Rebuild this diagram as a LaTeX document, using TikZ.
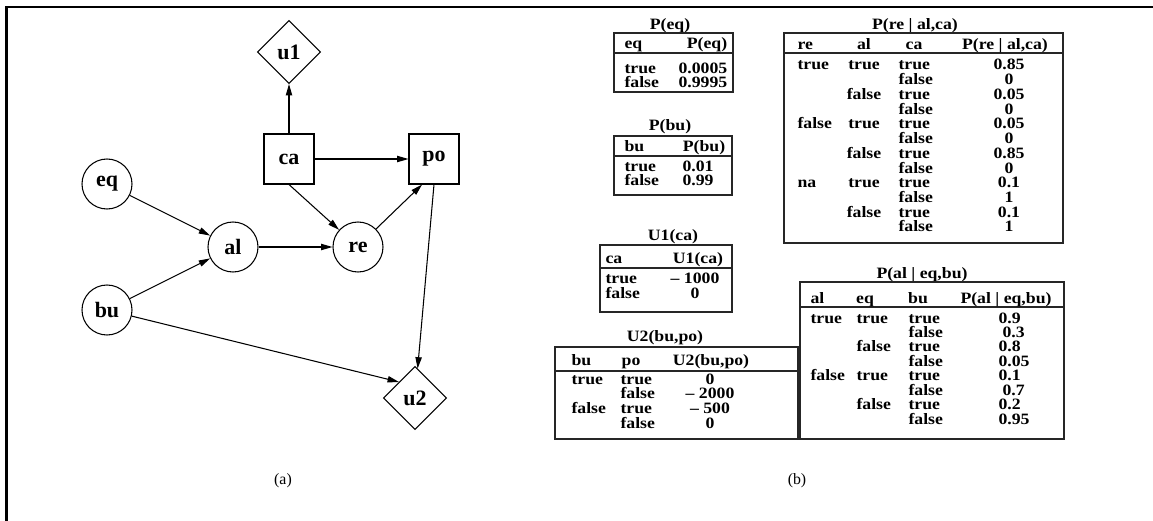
\documentclass[tikz,border=0pt]{standalone}
\usepackage{fontspec}
\setmainfont{Liberation Serif}
\newfontfamily\tabfont[FakeStretch=1.12]{Liberation Serif Bold}
\usetikzlibrary{arrows.meta,shapes.geometric}

\begin{document}
\begin{tikzpicture}[
  >={Triangle[length=6.5pt,width=3.6pt]}, line width=0.6pt,
  varnode/.style={draw, inner sep=0pt, font=\bfseries\fontsize{12.5}{14}\selectfont},
  chance/.style={varnode, circle, minimum size=1cm},
  decision/.style={varnode, rectangle, minimum size=1cm},
  utility/.style={varnode, diamond, minimum size=1.26cm},
  tabtxt/.style={inner sep=0pt, font=\tabfont\fontsize{9}{9}\selectfont},
  lcell/.style={tabtxt, anchor=base west},
  ccell/.style={tabtxt, anchor=base},
  tabbox/.style={draw=black!85, line width=0.7pt},
]
  \useasboundingbox (0,0) rectangle (23.06,-10.42);
  \draw[line width=1.5pt] (0.13,-10.42) -- (0.13,-0.14) -- (23.06,-0.14);

  % (a) influence diagram
  \node[utility]  (u1) at (5.78,-1.04) {u1};
  \node[decision] (ca) at (5.78,-3.18) {ca};
  \node[decision] (po) at (8.68,-3.18) {po};
  \node[chance]   (eq) at (2.14,-3.68) {eq};
  \node[chance]   (al) at (4.66,-4.94) {al};
  \node[chance]   (re) at (7.16,-4.94) {re};
  \node[chance]   (bu) at (2.14,-6.20) {bu};
  \node[utility]  (u2) at (8.30,-7.96) {u2};

  \draw[->] (eq) -- (al);
  \draw[->] (bu) -- (al);
  \draw[->] (al) -- (re);
  \draw[->] (ca) -- (u1);
  \draw[->] (ca) -- (po);
  \draw[->] (ca.south) -- (re);
  \draw[->] (re.north east) -- (po.245);
  \draw[->] (po.south) -- (u2);
  \draw[->] (bu) -- (u2.north west);

  \node[font=\fontsize{9}{10}\selectfont] (lbla) at (5.66,-9.62) {(a)};

  % (b) tables
  % P(eq)
  \node[ccell] (teq) at (13.40,-0.58) {P(eq)};
  \draw[tabbox] (12.28,-0.66) rectangle (14.66,-1.84);
  \draw[tabbox, line width=1.2pt] (12.28,-1.06) -- (14.66,-1.06);
  \node[lcell] (heq-1) at (12.48,-0.96) {eq};
  \node[ccell] (heq-2) at (14.14,-0.96) {P(eq)};
  \node[lcell] (peq-t) at (12.48,-1.46) {true};
  \node[lcell] (peq-f) at (12.48,-1.74) {false};
  \node[lcell] (peq-1) at (13.56,-1.46) {0.0005};
  \node[lcell] (peq-2) at (13.56,-1.74) {0.9995};

  % P(bu)
  \node[ccell] (tbu) at (13.40,-2.60) {P(bu)};
  \draw[tabbox] (12.28,-2.72) rectangle (14.64,-3.90);
  \draw[tabbox, line width=1.2pt] (12.28,-3.12) -- (14.64,-3.12);
  \node[lcell] (hbu-1) at (12.48,-3.02) {bu};
  \node[ccell] (hbu-2) at (14.08,-3.02) {P(bu)};
  \node[lcell] (pbu-t) at (12.48,-3.42) {true};
  \node[lcell] (pbu-f) at (12.48,-3.71) {false};
  \node[lcell] (pbu-1) at (13.64,-3.42) {0.01};
  \node[lcell] (pbu-2) at (13.64,-3.71) {0.99};

  % U1(ca)
  \node[ccell] (tu1) at (13.46,-4.80) {U1(ca)};
  \draw[tabbox] (12.00,-4.90) rectangle (14.64,-6.24);
  \draw[tabbox] (12.00,-5.36) -- (14.64,-5.36);
  \node[lcell] (hu1-1) at (12.10,-5.26) {ca};
  \node[ccell] (hu1-2) at (13.96,-5.26) {U1(ca)};
  \node[lcell] (pu1-t) at (12.10,-5.66) {true};
  \node[lcell] (pu1-f) at (12.10,-5.96) {false};
  \node[ccell] (pu1-1) at (13.90,-5.66) {\textendash~1000};
  \node[ccell] (pu1-2) at (13.90,-5.96) {0};

  % U2(bu,po)
  \node[ccell] (tu2) at (13.30,-6.82) {U2(bu,po)};
  \draw[tabbox] (11.10,-6.94) rectangle (15.96,-8.78);
  \draw[tabbox] (11.10,-7.42) -- (15.96,-7.42);
  \node[lcell] (hu2-1) at (11.42,-7.30) {bu};
  \node[ccell] (hu2-2) at (12.62,-7.30) {po};
  \node[ccell] (hu2-3) at (14.22,-7.30) {U2(bu,po)};
  \node[lcell] (pu2-bt) at (11.42,-7.68) {true};
  \node[lcell] (pu2-bf) at (11.42,-8.27) {false};
  \foreach \p/\v [count=\i] in {true/0, false/\textendash~2000, true/\textendash~500, false/0} {
    \node[lcell] (pu2-p\i) at (12.40,{-7.68-0.294*(\i-1)}) {\p};
    \node[ccell] (pu2-v\i) at (14.20,{-7.68-0.294*(\i-1)}) {\v};
  }

  % P(re | al,ca)
  \node[ccell] (tre) at (18.30,-0.58) {P(re | al,ca)};
  \draw[tabbox] (15.68,-0.66) rectangle (21.26,-4.86);
  \draw[tabbox] (15.68,-1.06) -- (21.26,-1.06);
  \node[lcell] (hre-1) at (15.94,-0.98) {re};
  \node[ccell] (hre-2) at (17.28,-0.98) {al};
  \node[ccell] (hre-3) at (18.28,-0.98) {ca};
  \node[ccell] (hre-4) at (20.10,-0.98) {P(re | al,ca)};
  \foreach \i/\r in {1/true, 5/false, 9/na}
    \node[lcell] (pre-r\i) at (15.94,{-1.40-0.2945*(\i-1)}) {\r};
  \foreach \i/\a in {1/true, 3/false, 5/true, 7/false, 9/true, 11/false}
    \node[ccell] (pre-a\i) at (17.28,{-1.40-0.2945*(\i-1)}) {\a};
  \foreach \i in {1,3,...,11} {
    \node[lcell] (pre-ct\i) at (17.96,{-1.40-0.2945*(\i-1)}) {true};
    \node[lcell] (pre-cf\i) at (17.96,{-1.40-0.2945*\i}) {false};
  }
  \foreach \v [count=\i] in {0.85,0,0.05,0,0.05,0,0.85,0,0.1,1,0.1,1}
    \node[ccell] (pre-v\i) at (20.18,{-1.40-0.2945*(\i-1)}) {\v};

  % P(al | eq,bu)
  \node[ccell] (tal) at (18.44,-5.56) {P(al | eq,bu)};
  \draw[tabbox] (16.00,-5.64) rectangle (21.28,-8.78);
  \draw[tabbox] (16.00,-6.14) -- (21.28,-6.14);
  \node[lcell] (hal-1) at (16.20,-6.06) {al};
  \node[ccell] (hal-2) at (17.30,-6.06) {eq};
  \node[ccell] (hal-3) at (18.36,-6.06) {bu};
  \node[ccell] (hal-4) at (20.12,-6.06) {P(al | eq,bu)};
  \node[lcell] (pal-r1) at (16.20,-6.46) {true};
  \node[lcell] (pal-r5) at (16.20,{-6.46-0.2886*4}) {false};
  \foreach \i/\e in {1/true, 3/false, 5/true, 7/false}
    \node[lcell] (pal-e\i) at (17.12,{-6.46-0.2886*(\i-1)}) {\e};
  \foreach \i in {1,3,5,7} {
    \node[lcell] (pal-bt\i) at (18.16,{-6.46-0.2886*(\i-1)}) {true};
    \node[lcell] (pal-bf\i) at (18.16,{-6.46-0.2886*\i}) {false};
  }
  \foreach \v/\dx [count=\i] in {0.9/0, 0.3/0.08, 0.8/0, 0.05/0, 0.1/0, 0.7/0.08, 0.2/0, 0.95/0}
    \node[lcell] (pal-v\i) at ({19.96+\dx},{-6.46-0.2886*(\i-1)}) {\v};

  \node[font=\fontsize{9}{10}\selectfont] (lblb) at (15.94,-9.62) {(b)};
\end{tikzpicture}
\end{document}
